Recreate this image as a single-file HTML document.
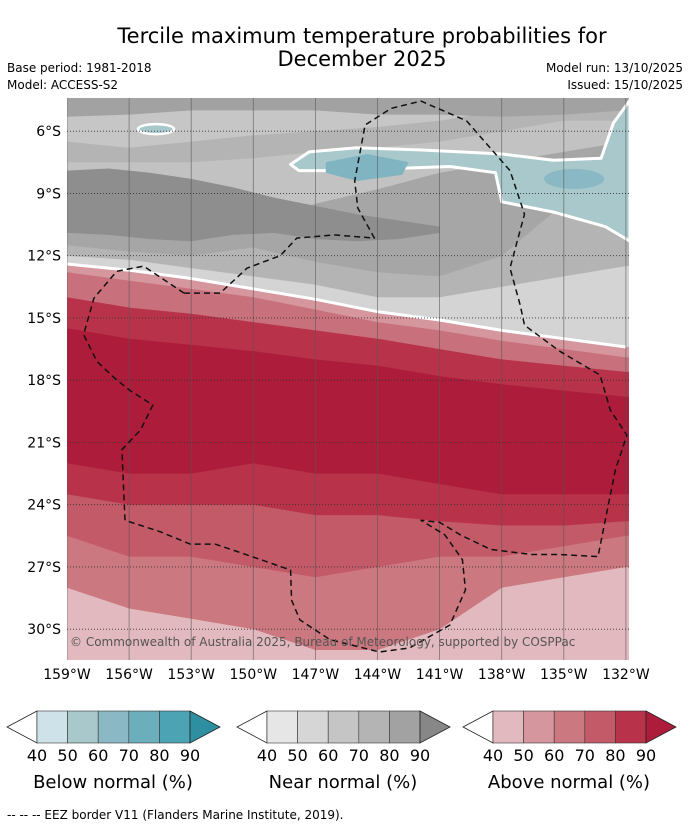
<!DOCTYPE html>
<html><head><meta charset="utf-8"><style>
body{margin:0;background:#fff;width:690px;height:827px;overflow:hidden;font-family:"DejaVu Sans","Liberation Sans",sans-serif}
</style></head><body>
<svg id="s" width="690" height="827" xmlns="http://www.w3.org/2000/svg">
<defs><clipPath id="mc"><rect x="67" y="98" width="562" height="562"/></clipPath></defs>
<text x="362" y="43" font-size="21" text-anchor="middle">Tercile maximum temperature probabilities for</text>
<text x="362" y="66" font-size="21" text-anchor="middle">December 2025</text>
<text x="7" y="72" font-size="12">Base period: 1981-2018</text>
<text x="7" y="89" font-size="12">Model: ACCESS-S2</text>
<text x="683" y="72" font-size="12" text-anchor="end">Model run: 13/10/2025</text>
<text x="683" y="89" font-size="12" text-anchor="end">Issued: 15/10/2025</text>
<g id="map" clip-path="url(#mc)"></g>
<g id="ax"></g>
<g id="cb"></g>
<text x="7" y="819" font-size="12">--  --  -- EEZ border V11 (Flanders Marine Institute, 2019).</text>
</svg>
<script>
const lons=[-159,-156,-153,-150,-147,-144,-141,-138,-135,-132];
const lonTicks=[-159,-156,-153,-150,-147,-144,-141,-138,-135,-132];
const latTicks=[-6,-9,-12,-15,-18,-21,-24,-27,-30];
const layerColors=["#cc7880","#c35a68","#b83249","#ad1c3a","#b83249","#c8707c","#d5969d","#d4d4d4","#b4b4b4","#a6a6a6","#c2c2c2","#b4b4b4","#c6c6c6","#a2a2a2"];
const layerLats=[
[-28,-29,-29.5,-30,-31,-31,-30,-28,-27.5,-27],
[-25.5,-26.5,-26.5,-27,-27.5,-27,-26.5,-26.5,-26,-25.5],
[-23.5,-24,-24,-24,-24.5,-24.5,-24.8,-25,-25,-24.8],
[-22,-22.5,-22.5,-22,-22.5,-22.5,-23,-23.5,-23.5,-23.5],
[-15.5,-16,-16.3,-16.6,-17,-17.3,-17.8,-18.2,-18.5,-18.8],
[-14,-14.5,-14.8,-15.2,-15.6,-16,-16.5,-17,-17.3,-17.6],
[-12.8,-13.2,-13.6,-14,-14.6,-15.2,-15.6,-16.1,-16.5,-16.9],
[-12.4,-12.7,-13.1,-13.6,-14.1,-14.7,-15.1,-15.6,-16,-16.4],
[-12,-12.2,-12.6,-13,-13.4,-14,-14,-13.5,-13,-12.5],
[-11.5,-11.8,-12,-11.6,-12.3,-12.8,-13,-12,-9.5,-9],
[-10.8,-11,-11.2,-10.5,-9.5,-8.8,-8,-7.5,-7,-6.5],
[-7.5,-7.5,-7.5,-7.3,-7,-6.8,-6.5,-6,-5.5,-5.5],
[-6.5,-6.8,-6.5,-6.2,-6,-5.8,-5.5,-5,-5,-5],
[-5.3,-5.2,-5,-5,-5,-5.2,-5.2,-5.3,-5.2,-5]];
const darkLons=[-159,-157,-155,-153,-151,-149,-147,-145,-143,-141];
const darkTop=[-7.9,-7.8,-8,-8.3,-8.7,-9.2,-9.6,-10,-10.3,-10.6];
const darkBottom=[-10.9,-11,-11.2,-11.3,-11,-10.9,-11.2,-11.3,-11.2,-10.9];
const tealOuterLon=[-148.2,-147.3,-145,-142,-140,-138,-135.5,-133.2,-132.6,-131.8,-131.8,-133,-135.5,-138,-138.3,-140.5,-146,-147.8];
const tealOuterLat=[-7.6,-7.0,-6.8,-6.9,-7.0,-7.1,-7.4,-7.3,-5.6,-4.5,-11.3,-10.6,-9.9,-9.4,-8,-7.7,-7.9,-7.9];
const tealInnerLon=[-146.5,-144.5,-142.5,-142.8,-145,-146.5];
const tealInnerLat=[-7.5,-7.1,-7.5,-8.1,-8.4,-8.0];
const eezLon=[-153.35,-151.6,-150.3,-148.7,-147.9,-146.1,-144.15,-144.95,-145.1,-144.6,-143.35,-141.9,-139.7,-137.6,-136.9,-137.6,-137.1,-136.9,-135.2,-133.25,-132.75,-131.95,-132.5,-133.0,-133.35,-135.2,-136.6,-138.55,-140.0,-141.0,-141.9,-140.75,-139.9,-139.75,-140.5,-142.45,-143.9,-146.3,-147.75,-148.15,-148.2,-149.2,-150.65,-151.85,-153.05,-154.5,-156.2,-156.35,-155.45,-154.85,-155.95,-156.7,-157.55,-158.2,-157.7,-156.6,-155.3,-153.35];
const eezLat=[-13.8,-13.8,-12.6,-12.0,-11.15,-11.0,-11.15,-9.7,-8.4,-5.7,-4.9,-4.55,-5.5,-7.9,-10.0,-12.6,-14.4,-15.35,-16.6,-17.75,-19.45,-20.65,-22.3,-24.75,-26.5,-26.4,-26.4,-26.15,-25.45,-24.85,-24.75,-25.45,-26.65,-28.1,-29.8,-30.9,-31.1,-30.5,-29.55,-28.6,-27.15,-26.8,-26.3,-25.9,-25.9,-25.3,-24.75,-21.35,-20.4,-19.2,-18.5,-17.9,-17.1,-15.8,-14.05,-12.75,-12.5,-13.8];
const X=lon=>67+(lon+159)*20.7, Y=lat=>98+(-4.4-lat)*20.75;
const NS="http://www.w3.org/2000/svg";
function mk(tag,attrs,parent){const e=document.createElementNS(NS,tag);for(const k in attrs)e.setAttribute(k,attrs[k]);parent.appendChild(e);return e;}
const map=document.getElementById('map');
const bg=mk('rect',{x:67,y:98,width:562,height:562,fill:"#e1b9be"},map);


function pathOf(pts){let d="M"+pts[0][0].toFixed(1)+","+pts[0][1].toFixed(1);for(let i=1;i<pts.length;i++){d+=" L"+pts[i][0].toFixed(1)+","+pts[i][1].toFixed(1);}return d;}
layerLats.forEach((ls,i)=>{
 const pts=[[X(-160),Y(-4)]];
 pts.push([X(-160),Y(ls[0])]);
 ls.forEach((la,j)=>pts.push([X(lons[j]),Y(la)]));
 pts.push([X(-131),Y(ls[ls.length-1])]);pts.push([X(-131),Y(-4)]);
 const p=mk('path',{d:pathOf(pts)+"Z",fill:layerColors[i],"stroke-linejoin":"round"},map);
 
 
 if(i===7){const l=mk('path',{d:pathOf(ls.map((la,j)=>[X(lons[j]),Y(la)])),fill:"none",stroke:"#fff","stroke-width":3},map);
 
 }
});
{const pts=[[X(-160),Y(darkTop[0])]];
 darkLons.forEach((l,i)=>pts.push([X(l),Y(darkTop[i])]));
 for(let i=darkLons.length-1;i>=0;i--)pts.push([X(darkLons[i]),Y(darkBottom[i])]);
 pts.push([X(-160),Y(darkBottom[0])]);
 const dk=mk('path',{d:pathOf(pts)+"Z",fill:"#8e8e8e"},map);
 
 }
const to=mk('path',{d:pathOf(tealOuterLon.map((l,i)=>[X(l),Y(tealOuterLat[i])]))+"Z",fill:"#a8c8cc",stroke:"#fff","stroke-width":3,"stroke-linejoin":"round"},map);


const ti=mk('path',{d:pathOf(tealInnerLon.map((l,i)=>[X(l),Y(tealInnerLat[i])]))+"Z",fill:"#7fb4c0"},map);


const ti2=mk('ellipse',{cx:X(-134.5),cy:Y(-8.3),rx:30,ry:10,fill:"#8ab8c4"},map);


const ts=mk('ellipse',{cx:X(-154.7),cy:Y(-5.9),rx:18,ry:5,fill:"#a8c8cc",stroke:"#fff","stroke-width":2.5},map);


const ax=document.getElementById('ax');
lonTicks.forEach(l=>{
 const g=mk('line',{x1:X(l),x2:X(l),y1:98,y2:660,stroke:"#555","stroke-width":0.8,"stroke-opacity":0.7},map);
 
 
 const t=mk('text',{x:X(l),y:679,"font-size":14,"text-anchor":"middle"},ax);t.textContent=Math.abs(l)+"°W";
 
 
});
latTicks.forEach(l=>{
 const g=mk('line',{x1:67,x2:629,y1:Y(l),y2:Y(l),stroke:"#333","stroke-width":0.8,"stroke-dasharray":"1,2"},map);
 
 
 const t=mk('text',{x:61,y:Y(l)+5,"font-size":14,"text-anchor":"end"},ax);t.textContent=Math.abs(l)+"°S";
 
 
});
const ez=mk('path',{d:pathOf(eezLon.map((l,i)=>[X(l),Y(eezLat[i])])),fill:"none",stroke:"#111","stroke-width":1.5,"stroke-dasharray":"6,4","stroke-linejoin":"round"},map);


const cp=mk('text',{x:70,y:646,"font-size":12,fill:"#555"},map);cp.textContent="© Commonwealth of Australia 2025, Bureau of Meteorology, supported by COSPPac";


const cbLabels=["40","50","60","70","80","90"];
const cbSets=[{x:37,t:"Below normal (%)",c:["#cde3e9","#a8c8cc","#8ab8c4","#6baebc","#4ba3b3"],tip:"#2e8fa0"},
{x:267,t:"Near normal (%)",c:["#e6e6e6","#d6d6d6","#c5c5c5","#b4b4b4","#a2a2a2"],tip:"#878787"},
{x:493,t:"Above normal (%)",c:["#e1b9be","#d5969d","#cc7880","#c35a68","#b83249"],tip:"#ad1c3a"}];
const cb=document.getElementById('cb');
cbSets.forEach(s=>{
 const g=mk('g',{},cb);
 mk('polygon',{points:`${s.x},711 ${s.x-30},727 ${s.x},743`,fill:"#fff",stroke:"#222","stroke-width":0.8},g);
 s.c.forEach((c,i)=>mk('rect',{x:s.x+i*30.6,y:711,width:30.6,height:32,fill:c,stroke:"#333","stroke-width":0.6},g));
 mk('polygon',{points:`${s.x+153},711 ${s.x+183},727 ${s.x+153},743`,fill:s.tip,stroke:"#222","stroke-width":0.8},g);
 cbLabels.forEach((l,i)=>{const t=mk('text',{x:s.x+i*30.6,y:761,"font-size":16,"text-anchor":"middle"},g);t.textContent=l;});
 const tt=mk('text',{x:s.x+76,y:788,"font-size":18,"text-anchor":"middle"},g);tt.textContent=s.t;
});
</script>
</body></html>
